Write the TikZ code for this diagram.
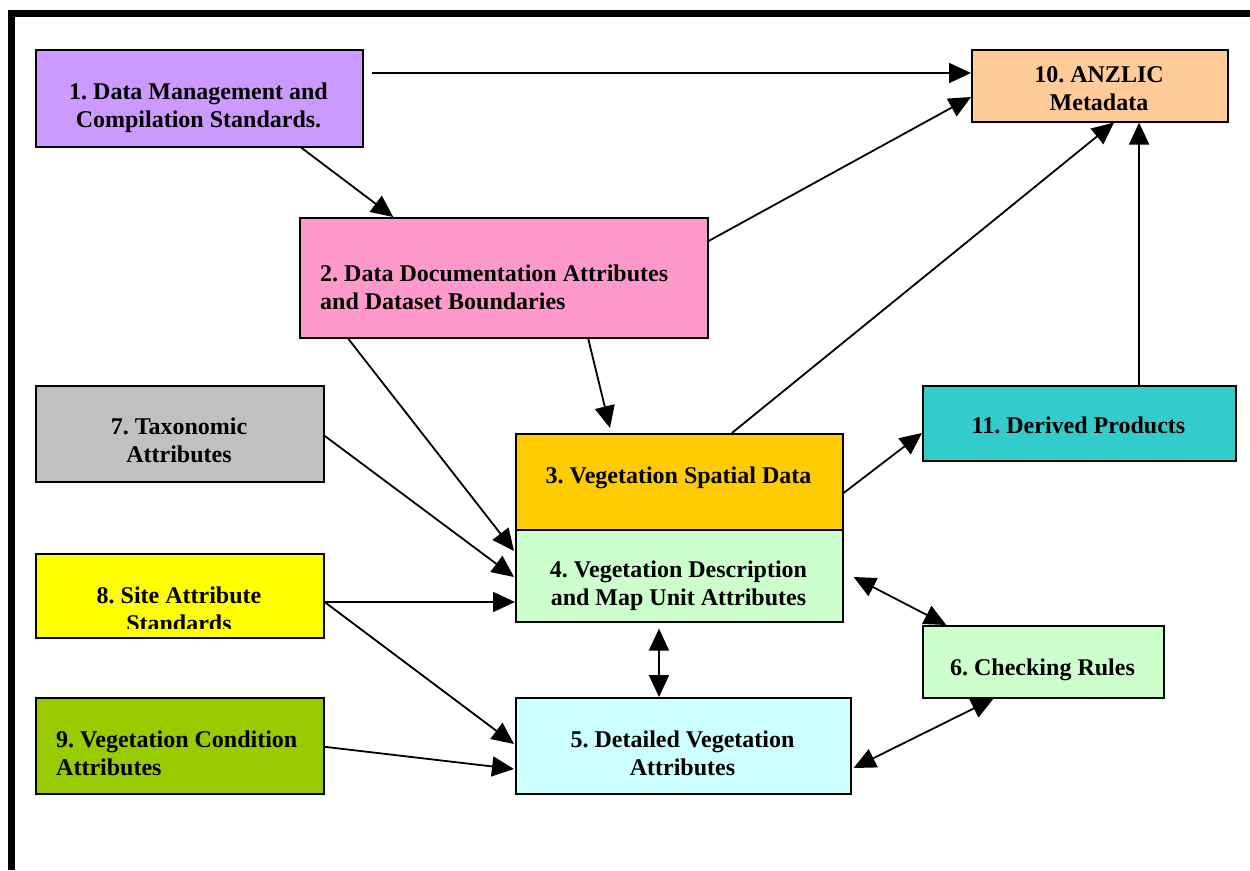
\documentclass[tikz,border=0pt]{standalone}
\usepackage{fontspec}
\setmainfont{Liberation Serif}
\usetikzlibrary{arrows.meta,calc,shadows}
\definecolor{cPurple}{HTML}{CC99FF}
\definecolor{cPeach}{HTML}{FFCC99}
\definecolor{cPink}{HTML}{FF99CC}
\definecolor{cGray}{HTML}{C0C0C0}
\definecolor{cTeal}{HTML}{33CCCC}
\definecolor{cOrange}{HTML}{FFCC00}
\definecolor{cLGreen}{HTML}{CCFFCC}
\definecolor{cYellow}{HTML}{FFFF00}
\definecolor{cLime}{HTML}{99CC00}
\definecolor{cLCyan}{HTML}{CCFFFF}
\frenchspacing
\begin{document}
\begin{tikzpicture}[x=1pt,y=-1pt,
  box/.style={draw=black, line width=1.6pt, rectangle, inner sep=0pt, anchor=north west,
    general shadow={fill=black!45, shadow xshift=1.5pt, shadow yshift=-1.5pt}},
  lbl/.style={font=\fontsize{24}{28}\selectfont\bfseries\frenchspacing, inner sep=0pt, align=center},
  lbll/.style={font=\fontsize{24}{28}\selectfont\bfseries\frenchspacing, inner sep=0pt, align=left, anchor=west},
  tip/.tip={Triangle[length=22pt,width=20pt]},
  conn/.style={line width=1.8pt, -tip},
  bconn/.style={line width=1.8pt, tip-tip}]
\useasboundingbox (0,0) rectangle (1250,870);
% frame
\draw[line width=6.5pt, line join=miter] (11.5,870) -- (11.5,13.5) -- (1250,13.5);
% boxes
\node[box, fill=cPurple, minimum width=327pt, minimum height=97pt] (n1) at (35,49) {};
\node[box, fill=cPeach, minimum width=256pt, minimum height=72pt] (n10) at (971,49) {};
\node[box, fill=cPink, minimum width=408pt, minimum height=120pt] (n2) at (299,217) {};
\node[box, fill=cGray, minimum width=288pt, minimum height=96pt] (n7) at (35,385) {};
\node[box, fill=cTeal, minimum width=313pt, minimum height=75pt] (n11) at (922,385) {};
\node[box, fill=cOrange, minimum width=327pt, minimum height=96pt] (n3) at (515,433) {};
\node[box, fill=cLGreen, minimum width=327pt, minimum height=92pt] (n4) at (515,529) {};
\node[box, fill=cYellow, minimum width=288pt, minimum height=84pt] (n8) at (35,553) {};
\node[box, fill=cLGreen, minimum width=241pt, minimum height=72pt] (n6) at (922,625) {};
\node[box, fill=cLime, minimum width=288pt, minimum height=96pt] (n9) at (35,697) {};
\node[box, fill=cLCyan, minimum width=335pt, minimum height=96pt] (n5) at (515,697) {};
% texts
\node[lbl] (t1) at (198.5,107.4) {\strut 1. Data Management and\\\strut Compilation Standards.};
\node[lbl] (t10) at (1099,90.4) {\strut 10. ANZLIC\\\strut Metadata};
\node[lbll] (t2) at (320,289.4) {\strut 2. Data Documentation Attributes\\\strut and Dataset Boundaries};
\node[lbl] (t7) at (179,442.4) {\strut 7. Taxonomic\\\strut Attributes};
\node[lbl] (t11) at (1078.5,427.4) {\strut 11. Derived Products};
\node[lbl] (t3) at (678.5,477.4) {\strut 3. Vegetation Spatial Data};
\node[lbl] (t4) at (678.5,585.4) {\strut 4. Vegetation Description\\\strut and Map Unit Attributes};
\begin{scope}
  \clip (n8.north west) rectangle ($(n8.south east)+(0,-10)$);
  \node[lbl] (t8) at (179,611.4) {\strut 8. Site Attribute\\\strut Standards};
\end{scope}
\node[lbl] (t6) at (1042.5,669.4) {\strut 6. Checking Rules};
\node[lbll] (t9) at (56,755.4) {\strut 9. Vegetation Condition\\\strut Attributes};
\node[lbl] (t5) at (682.5,755.4) {\strut 5. Detailed Vegetation\\\strut Attributes};
% connectors
\coordinate (s1) at ($(n1.north east)+(8,24)$);
\draw[conn] (s1) -- (s1 -| n10.west);
\draw[conn] ($(n1.south west)!0.81!(n1.south east)$) -- ($(n2.north west)!0.23!(n2.north east)$);
\draw[conn] ($(n2.north east)+(0,24)$) -- ($(n10.north west)+(0,48)$);
\draw[conn] ($(n3.north west)!0.66!(n3.north east)$) -- ($(n10.south west)!0.555!(n10.south east)$);
\coordinate (s11) at ($(n11.north west)!0.69!(n11.north east)$);
\draw[conn] (s11) -- (s11 |- n10.south);
\draw[conn] ($(n2.south west)!0.706!(n2.south east)$) -- ($(n3.north west)+(95,-5)$);
\draw[conn] ($(n2.south west)!0.12!(n2.south east)$) -- ($(n4.north west)+(-1,22)$);
\draw[conn] ($(n7.east)+(0,2)$) -- ($(n4.north west)+(-1,48)$);
\coordinate (s8) at ($(n8.north east)+(0,49)$);
\draw[conn] (s8) -- (s8 -| n4.west);
\draw[conn] (s8) -- ($(n5.north west)+(-1,47)$);
\draw[conn] ($(n9.east)+(0,1)$) -- ($(n5.north west)+(-1,72)$);
\draw[conn] ($(n3.north east)+(0,60)$) -- ($(n11.north west)+(0,48)$);
\draw[bconn] ($(n4.north east)+(10,48)$) -- ($(n6.north west)!0.1!(n6.north east)$);
\draw[bconn] ($(n5.north east)+(2,71)$) -- ($(n6.south west)!0.295!(n6.south east)$);
\coordinate (s45) at ($(n4.south west)+(144,6)$);
\draw[bconn] (s45) -- (s45 |- n5.north);
\end{tikzpicture}
\end{document}
